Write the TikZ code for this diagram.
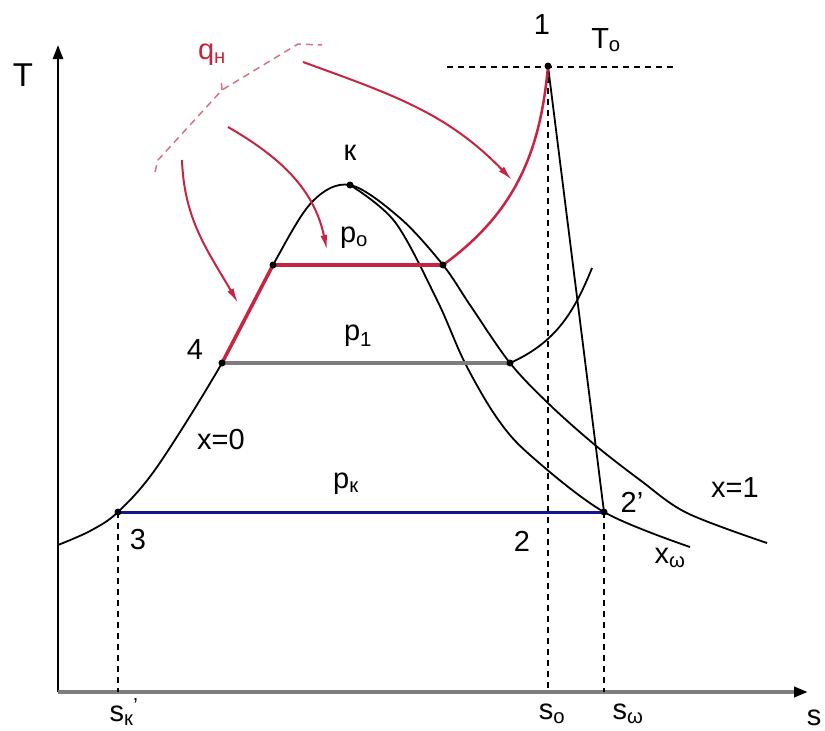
\documentclass[tikz,border=0pt]{standalone}
\usepackage{fontspec}
\setmainfont{Liberation Sans}
\usetikzlibrary{arrows.meta}
\definecolor{heatred}{RGB}{200,35,65}
\definecolor{pkblue}{RGB}{20,20,140}
\definecolor{pgray}{RGB}{125,125,125}

\begin{document}
\begin{tikzpicture}[x=1pt, y=-1pt,
    lbl/.style={font=\fontsize{29}{32}\selectfont, inner sep=0pt},
    axis/.style={line width=2.5pt, -{Triangle[length=14pt,width=10pt,color=black]}},
    sat/.style={line width=1.8pt},
    guide/.style={line width=1.4pt, dash pattern=on 6pt off 5pt},
    heat/.style={line width=3.5pt, draw=heatred},
    qflow/.style={line width=2pt, draw=heatred, -{Latex[length=15pt,width=7pt]}},
    qbrace/.style={line width=1.5pt, draw=heatred!65, dash pattern=on 7pt off 5pt},
    dot/.style={circle, fill=black, inner sep=0pt, minimum size=7pt}
]
\useasboundingbox (0,0) rectangle (825,731);

\coordinate (O) at (58,692);
\coordinate (Ttop) at (58,45);
\coordinate (send) at (808,692);
\coordinate (K) at (350,185);
\coordinate (a) at (273,265);
\coordinate (b) at (443,265);
\coordinate (n1) at (548,66);
\coordinate (n2) at (548,512);
\coordinate (n2p) at (604,512);
\coordinate (n3) at (118,512);
\coordinate (n4) at (222,363);
\coordinate (n5) at (510,363);
\coordinate (n6) at (592,268);
\coordinate (T0l) at (447,67);
\coordinate (T0r) at (675,67);

% axes
\draw[axis] (O) -- (Ttop);
\draw[axis, draw=pgray, line width=3.5pt] (O) -- (send);

% guides
\draw[guide] (T0l) -- (T0r);
\draw[guide] (n3) -- (n3 |- O);
\draw[guide] (n1) -- (n1 |- O);
\draw[guide] (n2p) -- (n2p |- O);

% saturation lines
\draw[sat] plot[smooth, tension=0.55] coordinates {(58,545) (90,531) (n3) (157,467) (n4) (a) (312,202) (K) (400,218) (b) (470,305) (n5) (550,405) (595,445) (640,480) (687,513) (767,543)};
\draw[sat] plot[smooth, tension=0.55] coordinates {(K) (395,222) (437,300) (465,363) (497,418) (530,455) (n2p) (690,547)};
\draw[sat] (n5) to[out=24, in=-112] (n6);
\draw[sat] (n1) -- (n2p);

% isobars
\draw[line width=3pt, pkblue] (n3) -- (n2p);
\draw[line width=4.5pt, pgray] (n4) -- (n5);
\draw[heat] (n4) -- (a);
\draw[heat] (a) -- (b);
\draw[heat, line width=2.5pt] (b) to[out=36, in=-95] (n1);

% heat supply
\draw[qbrace] (155,172) -- (158,160) -- (222,90) -- (298,44) -- (322,45);
\draw[qbrace] (222,90) -- (221,78);
\draw[qflow] (303,62) to[out=-20, in=134] (512,180);
\draw[qflow] (228,127) to[out=-30, in=102] (327,250);
\draw[qflow] (182,160) to[out=-88, in=120] (238,303);

\foreach \p in {K,a,b,n1,n3,n4,n5,n2p}
    \node[dot] (\p-dot) at (\p) {};

\node[lbl, font=\fontsize{33}{36}\selectfont] (Tlbl) at (23,75) {T};
\node[lbl] (slbl) at (814,718) {s};
\node[lbl] (l1) at (542,25) {1};
\node[lbl] (lT0) at (606,40) {T\textsubscript{o}};
\node[lbl] (lK) at (350,153) {к};
\node[lbl] (lp0) at (354,238) {p\textsubscript{o}};
\node[lbl] (lp1) at (358,336) {p\textsubscript{1}};
\node[lbl] (l4) at (195,350) {4};
\node[lbl] (lx0) at (221,440) {x=0};
\node[lbl] (lpk) at (346,484) {p\textsubscript{к}};
\node[lbl] (l3) at (138,540) {3};
\node[lbl] (l2) at (522,541) {2};
\node[lbl] (l2p) at (632,502) {2'};
\node[lbl] (lx1) at (735,488) {x=1};
\node[lbl] (lxw) at (670,558) {x\textsubscript{ω}};
\node[lbl] (lso) at (552,714) {s\textsubscript{o}};
\node[lbl] (lsw) at (628,714) {s\textsubscript{ω}};
\node[lbl] (lsk) at (124,712) {s\textsubscript{к}\textsuperscript{'}};
\node[lbl, text=heatred] (lq) at (212,55) {q\textsubscript{н}};

\end{tikzpicture}
\end{document}
